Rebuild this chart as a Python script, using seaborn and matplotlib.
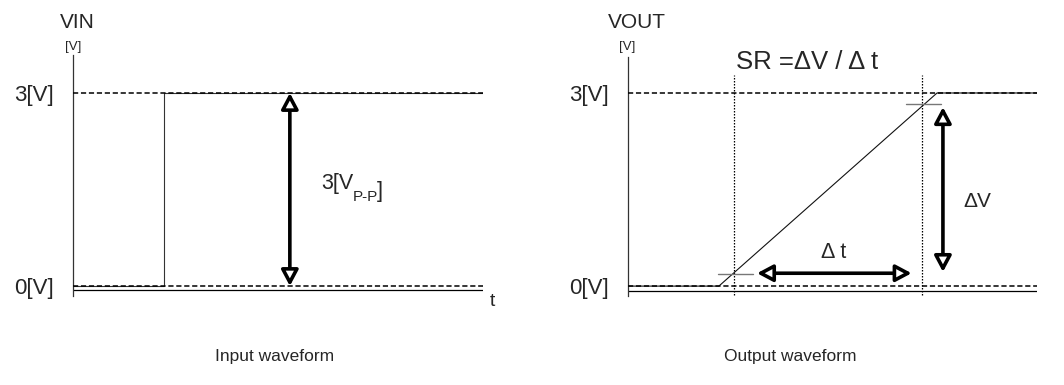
import matplotlib.pyplot as plt
import seaborn as sns
from matplotlib.patches import FancyArrowPatch

sns.set_style('white')
plt.rcParams['font.family'] = ['Liberation Sans', 'DejaVu Sans']

# waveform data (time in arbitrary units, voltage in V)
t_in = [0.0, 1.0, 1.0, 4.5]
v_in = [0.0, 0.0, 3.0, 3.0]
t_out = [0.0, 1.0, 3.4, 4.5]
v_out = [0.0, 0.0, 3.0, 3.0]
levels = [0, 3]
level_labels = ['0[V]', '3[V]']
# measurement points on the output ramp
t_meas = [1.165, 3.23]
v_meas = [0.19, 2.83]

W, H = 1064, 385
fig = plt.figure(figsize=(W / 100, H / 100), dpi=100)


def px_axes(x0, x1, y0, y1):
    return fig.add_axes([x0 / W, 1 - y1 / H, (x1 - x0) / W, (y1 - y0) / H])


def px_text(x, y, s, size, **kw):
    fig.text(x / W, 1 - y / H, s, fontsize=size, ha='center', va='center', **kw)


def setup(ax, base):
    ax.set_xlim(0, 4.5)
    ax.set_ylim(-0.155, 3.59)
    for side in ['top', 'right', 'bottom']:
        ax.spines[side].set_visible(False)
    ax.spines['left'].set_color('#333333')
    ax.spines['left'].set_linewidth(0.9)
    ax.set_xticks([])
    ax.set_yticks(levels, level_labels)
    ax.tick_params(axis='y', length=0, pad=14, labelsize=16)
    ax.patch.set_alpha(0)
    for lev in levels:
        ax.axhline(lev, color='black', lw=1.1, ls=(0, (3.4, 1.8)), zorder=3)
    ax.axhline(base, color='black', lw=0.9, zorder=2)


def double_arrow(ax, p0, p1):
    ax.add_patch(FancyArrowPatch(p0, p1, arrowstyle='<|-|>,head_length=0.6,head_width=0.32',
                                 mutation_scale=16, lw=2.6, fc='white', ec='black',
                                 shrinkA=0, shrinkB=0, zorder=4))


# ---- input waveform ----
ax1 = px_axes(73, 483, 55, 296)
setup(ax1, -0.06)
sns.lineplot(x=t_in, y=v_in, ax=ax1, sort=False, estimator=None, color='#333333', lw=0.8)
double_arrow(ax1, (2.38, 3), (2.38, 0))
t1 = ax1.text(2.72, 1.5, '3[V', fontsize=15.5, ha='left', va='baseline')
t2 = ax1.annotate('P-P', xy=(1, 0), xycoords=t1, xytext=(0, -5), textcoords='offset points',
                  fontsize=11, ha='left', va='baseline')
ax1.annotate(']', xy=(1, 0), xycoords=t2, xytext=(-1, 5), textcoords='offset points',
             fontsize=15.5, ha='left', va='baseline')

px_text(77, 22, 'VIN', 15)
px_text(73, 47, '[V]', 9.5)
px_text(492, 301, 't', 14)
px_text(275, 357, 'Input waveform', 12.5)

# ---- output waveform ----
ax2 = px_axes(628, 1037, 57, 296)
setup(ax2, -0.078)
ax2.set_ylim(-0.155 * 239 / 241, 3.59 - 0.031)
sns.lineplot(x=t_out, y=v_out, ax=ax2, sort=False, estimator=None, color='#111111', lw=0.8)
for tm, vm in zip(t_meas, v_meas):
    ax2.plot([tm, tm], [-0.14, 3.28], color='black', lw=0.9, ls=(0, (1.2, 1.2)), zorder=3)
    ax2.plot([tm - 0.17, tm + 0.21], [vm, vm], color='#777777', lw=1.0, zorder=3)
double_arrow(ax2, (3.465, v_meas[1] - 0.05), (3.465, v_meas[0] + 0.03))
double_arrow(ax2, (1.42, 0.2), (3.12, 0.2))

px_text(637, 22, 'VOUT', 15)
px_text(627, 47, '[V]', 9.5)
fig.text(736 / W, 1 - 62 / H, 'SR =ΔV / Δ t', fontsize=18.5, ha='left', va='center')
px_text(834, 253, 'Δ t', 15.5)
px_text(977, 202, 'ΔV', 15)
px_text(790, 357, 'Output waveform', 12.5)

fig.savefig('out.png', dpi=100)
